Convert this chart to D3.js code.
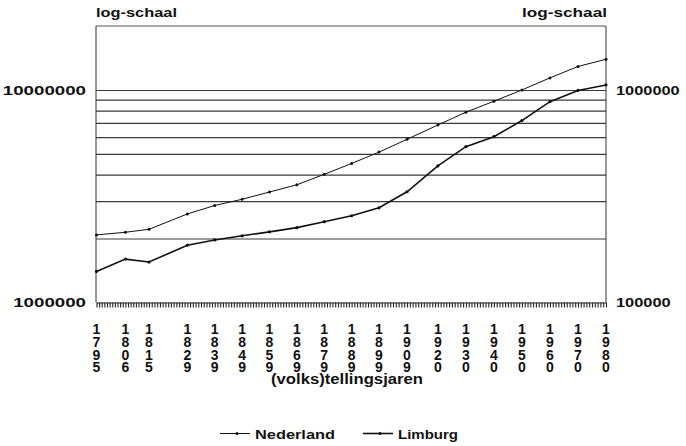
<!DOCTYPE html>
<html><head><meta charset="utf-8">
<script src="https://cdn.jsdelivr.net/npm/d3@7"></script>
<style>
html,body{margin:0;padding:0;background:#fff}
svg{display:block}
text{font-family:"Liberation Sans",Arial,Helvetica,sans-serif;font-weight:bold;fill:#111}
.vyear{writing-mode:vertical-lr;text-orientation:upright}
</style>
</head><body>
<svg id="c" width="686" height="446"></svg>
<script>
// ---- data ----
const years = [1795,1806,1815,1829,1839,1849,1859,1869,1879,1889,1899,1909,1920,1930,1940,1950,1960,1970,1980];
const nederland = [2080000,2140000,2210000,2610000,2860000,3060000,3310000,3580000,4010000,4510000,5100000,5860000,6840000,7860000,8850000,10000000,11400000,12900000,13950000];
const limburg = [140000,160000,155000,186000,197000,206000,215000,225000,240000,256000,279000,332000,439000,541000,603000,718000,881000,995000,1056000];
const gridValues = [2000000,3000000,4000000,5000000,6000000,7000000,8000000,9000000,10000000];
const leftTickValues = [1000000,10000000];
const rightTickValues = [100000,1000000];
const scaleLabel = "log-schaal";
const axisTitle = "(volks)tellingsjaren";
const seriesNames = ["Nederland","Limburg"];

// ---- layout ----
const L = 96, R = 606, T = 26, B = 302.5;
const svg = d3.select("#c");

const x = d3.scaleLinear().domain([1795,1815,1899,1980]).range([96.5,149,379,606]);
const yL = d3.scaleLog().domain([1e6,2e7]).range([B,T]);
const yR = d3.scaleLog().domain([1e5,2e6]).range([B,T]);

// gridlines
const grid = svg.append("g").attr("transform",`translate(${L},0)`)
  .call(d3.axisLeft(yL).tickValues(gridValues).tickSize(-(R-L)).tickFormat(""));
grid.select(".domain").remove();
grid.selectAll("line").attr("stroke","#3a3a3a").attr("stroke-width",1.2);

// frame
svg.append("line").attr("x1",L).attr("x2",R).attr("y1",T).attr("y2",T).attr("stroke","#555").attr("stroke-width",1);
svg.append("line").attr("x1",L).attr("x2",L).attr("y1",T).attr("y2",B).attr("stroke","#333").attr("stroke-width",1);
svg.append("line").attr("x1",R).attr("x2",R).attr("y1",T).attr("y2",B).attr("stroke","#333").attr("stroke-width",1);

// left axis labels
const la = svg.append("g").attr("transform",`translate(${L},0)`)
  .call(d3.axisLeft(yL).tickValues(leftTickValues).tickSize(0).tickPadding(10).tickFormat(d3.format("d")));
la.select(".domain").remove();
la.selectAll("text").attr("font-size",13).attr("font-family",null).attr("fill","#111")
  .attr("textLength",d=>String(d).length*10.4).attr("lengthAdjust","spacingAndGlyphs");

// right axis labels
const ra = svg.append("g").attr("transform",`translate(${R},0)`)
  .call(d3.axisRight(yR).tickValues(rightTickValues).tickSize(0).tickPadding(10).tickFormat(d3.format("d")));
ra.select(".domain").remove();
ra.selectAll("text").attr("font-size",13).attr("font-family",null).attr("fill","#111")
  .attr("textLength",d=>String(d).length*9.1).attr("lengthAdjust","spacingAndGlyphs");

// bottom axis with yearly ticks
const ba = svg.append("g").attr("transform",`translate(0,${B})`)
  .call(d3.axisBottom(x).tickValues(d3.range(1795,1981)).tickSize(5).tickSizeOuter(0).tickFormat(""));
ba.select(".domain").attr("stroke","#222").attr("stroke-width",1.2);
ba.selectAll("line").attr("stroke","#222").attr("stroke-width",1.1);

// x labels (stacked digits, vertical upright text)
svg.append("g").selectAll("text").data(years).join("text")
  .attr("class","vyear")
  .attr("x",d=>x(d)).attr("y",321)
  .attr("font-size",14)
  .attr("textLength",54.4).attr("lengthAdjust","spacing")
  .text(d=>String(d));

// titles
svg.append("text").attr("x",L).attr("y",16.5).attr("font-size",13)
  .attr("textLength",81).attr("lengthAdjust","spacingAndGlyphs").text(scaleLabel);
svg.append("text").attr("x",R+1).attr("y",16.5).attr("font-size",13).attr("text-anchor","end")
  .attr("textLength",85).attr("lengthAdjust","spacingAndGlyphs").text(scaleLabel);
svg.append("text").attr("x",271).attr("y",384).attr("font-size",14)
  .attr("textLength",152).attr("lengthAdjust","spacingAndGlyphs").text(axisTitle);

// series lines
const nlData = years.map((y,i)=>({year:y,v:nederland[i]}));
const lbData = years.map((y,i)=>({year:y,v:limburg[i]}));
const lineL = d3.line().x(d=>x(d.year)).y(d=>yL(d.v));
const lineR = d3.line().x(d=>x(d.year)).y(d=>yR(d.v));

svg.append("path").datum(nlData).attr("d",lineL).attr("fill","none").attr("stroke","#111").attr("stroke-width",1);
svg.append("path").datum(lbData).attr("d",lineR).attr("fill","none").attr("stroke","#111").attr("stroke-width",1.6);
svg.append("g").selectAll("circle").data(nlData).join("circle")
  .attr("cx",d=>x(d.year)).attr("cy",d=>yL(d.v)).attr("r",1.5).attr("fill","#111");
svg.append("g").selectAll("circle").data(lbData).join("circle")
  .attr("cx",d=>x(d.year)).attr("cy",d=>yR(d.v)).attr("r",1.6).attr("fill","#111");

// legend
const lg = [{name:seriesNames[0],x0:220,tx:255,w:80,sw:1},{name:seriesNames[1],x0:363,tx:398,w:60,sw:1.6}];
lg.forEach(o=>{
  svg.append("line").attr("x1",o.x0).attr("x2",o.x0+30).attr("y1",433.5).attr("y2",433.5).attr("stroke","#111").attr("stroke-width",o.sw);
  svg.append("circle").attr("cx",o.x0+17).attr("cy",433.5).attr("r",1.5).attr("fill","#111");
  svg.append("text").attr("x",o.tx).attr("y",438.5).attr("font-size",13)
    .attr("textLength",o.w).attr("lengthAdjust","spacingAndGlyphs").text(o.name);
});
</script>
</body></html>
